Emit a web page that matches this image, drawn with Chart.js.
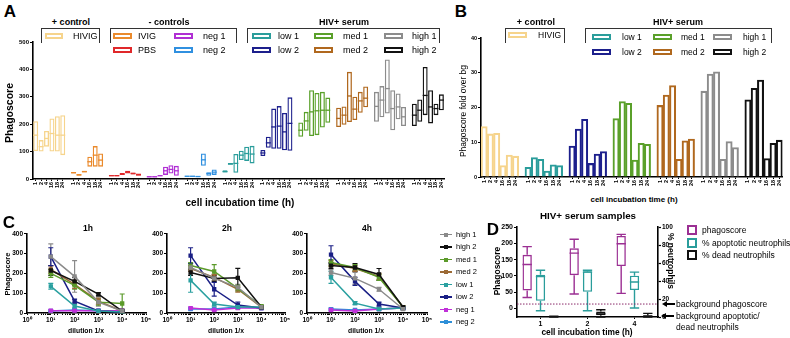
<!DOCTYPE html>
<html>
<head>
<meta charset="utf-8">
<script src="https://cdn.jsdelivr.net/npm/chart.js@4.4.1/dist/chart.umd.min.js"></script>
<style>
body { margin:0; background:#fff; }
#fig { position:relative; width:790px; height:338px; overflow:hidden; font-family:'Liberation Sans', Arial, sans-serif; color:#000; }
#fig canvas { position:absolute; }
.t { position:absolute; white-space:nowrap; line-height:1; }
.sw { position:absolute; box-sizing:border-box; border:2px solid; background:#fff; }
.br { position:absolute; box-sizing:border-box; border:1px solid #333; border-bottom:none; }
</style>
</head>
<body>
<div id="fig">
  <canvas id="chartA" width="449" height="156" style="left:0;top:37px"></canvas>
  <canvas id="chartB" width="326" height="158" style="left:461px;top:33px"></canvas>
  <canvas id="chartC1" width="146" height="96" style="left:7px;top:229px"></canvas>
  <canvas id="chartC2" width="145" height="96" style="left:147px;top:229px"></canvas>
  <canvas id="chartC3" width="147" height="96" style="left:287px;top:229px"></canvas>
  <canvas id="chartD" width="175" height="107" style="left:499px;top:222px"></canvas>
</div>
<script>
// ---- panel A: min / max / mean per group and time point
const groupsA = ['HIVIG', 'IVIG', 'PBS', 'neg 1', 'neg 2', 'low 1', 'low 2', 'med 1', 'med 2', 'high 1', 'high 2'];
const colorsA = ['#f6d48c', '#ea8a2c', '#e0282a', '#b02fd4', '#3090e0', '#2a9d9b', '#1c1f8c', '#5aa02a', '#b0681e', '#8c8c8c', '#111111'];
const times = ['1', '2', '4', '16', '18', '24'];
const minA = [
  [102, 100, 118, 100, 100, 87],
  [20, 12, 24, 45, 45, 45],
  [10, 10, 15, 20, 16, 12],
  [6, 6, 10, 15, 20, 12],
  [8, 8, 7, 48, 12, 15],
  [24, 52, 23, 69, 66, 57],
  [84, 114, 110, 110, 105, 103],
  [154, 176, 157, 160, 188, 205],
  [190, 198, 208, 215, 242, 262],
  [209, 225, 239, 178, 218, 193],
  [193, 209, 233, 203, 233, 251]
];
const maxA = [
  [211, 142, 175, 221, 229, 233],
  [26, 18, 30, 81, 120, 93],
  [14, 15, 22, 30, 24, 20],
  [10, 10, 14, 45, 50, 48],
  [12, 12, 11, 93, 25, 35],
  [32, 58, 91, 103, 118, 121],
  [106, 154, 257, 266, 241, 298],
  [206, 245, 324, 314, 318, 297],
  [260, 265, 391, 300, 318, 338],
  [318, 339, 436, 324, 312, 263],
  [275, 290, 409, 324, 275, 309]
];
const meanA = [
  [160, 118, 148, 166, 160, 160],
  [23, 15, 27, 63, 87, 69],
  [12, 12, 18, 25, 20, 16],
  [8, 8, 12, 30, 35, 30],
  [10, 10, 9, 70, 20, 25],
  [27, 55, 57, 87, 93, 91],
  [95, 132, 190, 193, 172, 203],
  [178, 212, 245, 249, 251, 251],
  [221, 233, 303, 255, 285, 295],
  [265, 288, 330, 257, 263, 227],
  [233, 251, 305, 263, 257, 288]
];

// ---- panel B: fold over background
const groupsB = ['HIVIG', 'low 1', 'low 2', 'med 1', 'med 2', 'high 1', 'high 2'];
const colorsB = ['#f6d48c', '#2a9d9b', '#1c1f8c', '#5aa02a', '#b0681e', '#8c8c8c', '#111111'];
const foldB = [
  [14.5, 12.4, 12.6, 3.3, 6.3, 6.0],
  [2.8, 5.6, 5.1, 1.7, 3.5, 3.3],
  [8.9, 13.8, 16.6, 3.9, 6.6, 7.3],
  [16.8, 21.7, 21.2, 4.9, 9.7, 9.4],
  [20.6, 23.6, 26.3, 5.1, 10.4, 10.9],
  [24.7, 29.6, 30.3, 5.1, 10.2, 8.5],
  [22.2, 25.5, 27.9, 5.3, 9.7, 10.6]
];

// ---- panel C: dilution series, mean and error per serum
const seriesC = ['high 1', 'high 2', 'med 1', 'med 2', 'low 1', 'low 2', 'neg 1', 'neg 2'];
const colorsC = ['#8a8a8a', '#111111', '#5b9a2a', '#9c6a35', '#2aa0a0', '#1a1f85', '#c030d8', '#2e8fd8'];
const dilutions = [10, 100, 1000, 10000];
const c1hVal = [[285, 185, 55, 10], [215, 160, 95, 10], [200, 140, 55, 48], [220, 145, 60, 10], [135, 35, 10, 5], [285, 60, 10, 5], [12, 12, 12, 12], [10, 15, 12, 12]];
const c1hErr = [[65, 80, 20, 5], [25, 20, 8, 5], [20, 20, 15, 48], [20, 20, 15, 5], [15, 10, 5, 3], [45, 10, 5, 3], [5, 3, 3, 3], [3, 3, 3, 3]];
const c2hVal = [[230, 175, 130, 30], [205, 175, 178, 30], [240, 210, 125, 35], [225, 180, 120, 30], [165, 45, 30, 30], [290, 120, 40, 25], [25, 15, 25, 25], [20, 20, 30, 25]];
const c2hErr = [[20, 20, 15, 5], [15, 15, 48, 5], [15, 35, 15, 5], [15, 15, 15, 5], [60, 10, 5, 5], [40, 35, 15, 5], [5, 5, 5, 5], [5, 5, 5, 5]];
const c4hVal = [[205, 175, 120, 20], [240, 230, 195, 30], [255, 230, 180, 30], [250, 225, 185, 30], [180, 50, 20, 25], [295, 160, 45, 25], [15, 10, 20, 25], [20, 15, 20, 25]];
const c4hErr = [[15, 30, 10, 5], [15, 20, 30, 5], [15, 15, 15, 5], [15, 15, 15, 5], [30, 8, 5, 5], [45, 20, 10, 5], [5, 3, 3, 3], [5, 3, 3, 3]];

// ---- panel D: box plots [min, q1, median, q3, max]
const timesD = ['1', '2', '4'];
const phagoD = [[33, 55, 135, 165, 190], [44, 102, 170, 185, 213], [46, 130, 199, 223, 228]];
const apopD = [[7, 18, 45, 47, 52], [7, 28, 50, 51, 52], [10, 30, 39, 46, 50]];
const deadD = [[0, 0, 0.4, 0.8, 1], [0, 2, 3.5, 6, 8], [0, 0, 1, 2, 4]];
const bgPhagoscore = 13;

Chart.defaults.font.family = "'Liberation Sans', Arial, sans-serif";
Chart.defaults.color = '#000';

// medians and whiskers on top of floating bars
const boxExtras = {
  id: 'boxExtras',
  afterDatasetsDraw(chart) {
    const ctx = chart.ctx;
    chart.data.datasets.forEach((ds, di) => {
      const meta = chart.getDatasetMeta(di);
      if (!ds.medians) return;
      const ys = chart.scales[meta.yAxisID];
      meta.data.forEach((bar, i) => {
        if (ds.data[i] == null) return;
        const half = bar.width / 2;
        ctx.save();
        ctx.strokeStyle = ds.borderColor;
        ctx.lineWidth = ds.borderWidth;
        ctx.beginPath();
        const ym = ys.getPixelForValue(ds.medians[i]);
        ctx.moveTo(bar.x - half, ym); ctx.lineTo(bar.x + half, ym);
        if (ds.whiskers) {
          const [lo, hi] = ds.whiskers[i];
          const [q1, q3] = ds.data[i];
          const yl = ys.getPixelForValue(lo), yh = ys.getPixelForValue(hi);
          ctx.moveTo(bar.x, ys.getPixelForValue(q1)); ctx.lineTo(bar.x, yl);
          ctx.moveTo(bar.x, ys.getPixelForValue(q3)); ctx.lineTo(bar.x, yh);
          ctx.moveTo(bar.x - half, yl); ctx.lineTo(bar.x + half, yl);
          ctx.moveTo(bar.x - half, yh); ctx.lineTo(bar.x + half, yh);
        }
        ctx.stroke();
        ctx.restore();
      });
    });
    const bg = chart.options.plugins.bgLine;
    if (bg && bg.value != null) {
      const y = chart.scales.y.getPixelForValue(bg.value);
      const a = chart.chartArea;
      ctx.save();
      ctx.strokeStyle = bg.color; ctx.lineWidth = 1; ctx.setLineDash([1.5, 1.5]);
      ctx.beginPath(); ctx.moveTo(a.left, y); ctx.lineTo(a.right, y); ctx.stroke();
      ctx.restore();
    }
  }
};

// vertical error bars for the dilution lines
const errorBars = {
  id: 'errorBars',
  beforeDatasetsDraw(chart) {
    const ctx = chart.ctx;
    const ys = chart.scales.y;
    chart.data.datasets.forEach((ds, di) => {
      const meta = chart.getDatasetMeta(di);
      meta.data.forEach((pt, i) => {
        const v = ds.data[i].y, e = ds.errors[i];
        const yt = ys.getPixelForValue(v + e), yb = ys.getPixelForValue(Math.max(0, v - e));
        ctx.save();
        ctx.strokeStyle = ds.borderColor; ctx.lineWidth = 1.2;
        ctx.beginPath();
        ctx.moveTo(pt.x, yt); ctx.lineTo(pt.x, yb);
        ctx.moveTo(pt.x - 2.5, yt); ctx.lineTo(pt.x + 2.5, yt);
        ctx.moveTo(pt.x - 2.5, yb); ctx.lineTo(pt.x + 2.5, yb);
        ctx.stroke();
        ctx.restore();
      });
    });
  }
};

function yAxis(min, max, step, width, size) {
  return {
    min: min, max: max,
    ticks: { stepSize: step, font: { size: size, weight: 'bold' }, color: '#000', padding: 1 },
    grid: { drawOnChartArea: false, tickLength: 3, tickColor: '#000', tickWidth: 1.2 },
    border: { color: '#000', width: 1.6 },
    afterFit: s => { s.width = width; }
  };
}

function baseOptions(padTop, padRight) {
  return {
    responsive: false, animation: false,
    layout: { autoPadding: false, padding: { top: padTop, right: padRight, left: 0, bottom: 0 } },
    plugins: { legend: { display: false }, tooltip: { enabled: false } }
  };
}

// category labels with an empty slot between groups
function groupedLabels(n) {
  const out = [];
  for (let g = 0; g < n; g++) {
    times.forEach(t => out.push(t));
    if (g < n - 1) out.push('');
  }
  return out;
}

function categoryX(labels, height) {
  return {
    ticks: { autoSkip: false, minRotation: 90, maxRotation: 90, font: { size: 5.5, weight: 'bold' }, color: '#000', padding: 1 },
    grid: { offset: false, drawOnChartArea: false, tickLength: 2, tickWidth: 1,
      tickColor: c => labels[c.index] ? '#000' : 'rgba(0,0,0,0)' },
    border: { color: '#000', width: 1.6 },
    afterFit: s => { s.height = height; }
  };
}

// ---- A
const labelsA = groupedLabels(groupsA.length);
const datasetsA = groupsA.map((name, g) => {
  const data = labelsA.map(() => null);
  const medians = labelsA.map(() => null);
  times.forEach((t, k) => {
    data[g * 7 + k] = [minA[g][k], maxA[g][k]];
    medians[g * 7 + k] = meanA[g][k];
  });
  return {
    label: name, data: data, medians: medians,
    borderColor: colorsA[g], backgroundColor: 'rgba(255,255,255,0)',
    borderWidth: 1.3, borderSkipped: false, grouped: false,
    barPercentage: 0.92, categoryPercentage: 1
  };
});
const optA = baseOptions(5, 2);
optA.scales = { x: categoryX(labelsA, 14), y: yAxis(0, 500, 100, 33, 6) };
new Chart(document.getElementById('chartA'), {
  type: 'bar', data: { labels: labelsA, datasets: datasetsA }, options: optA, plugins: [boxExtras]
});

// ---- B
const labelsB = groupedLabels(groupsB.length);
const datasetsB = groupsB.map((name, g) => {
  const data = labelsB.map(() => null);
  times.forEach((t, k) => { data[g * 7 + k] = foldB[g][k]; });
  return {
    label: name, data: data,
    borderColor: colorsB[g], backgroundColor: 'rgba(255,255,255,0)',
    borderWidth: 1.4, borderSkipped: 'start', grouped: false,
    barPercentage: 1, categoryPercentage: 1
  };
});
const optB = baseOptions(5, 4);
optB.scales = { x: categoryX(labelsB, 14), y: yAxis(0, 40, 10, 20, 5.5) };
new Chart(document.getElementById('chartB'), {
  type: 'bar', data: { labels: labelsB, datasets: datasetsB }, options: optB
});

// ---- C
const sup = ['⁰', '¹', '²', '³', '⁴', '⁵'];
function makeC(id, vals, errs) {
  const datasets = seriesC.map((name, s) => ({
    label: name,
    data: dilutions.map((d, i) => ({ x: d, y: vals[s][i] })),
    errors: errs[s],
    borderColor: colorsC[s], backgroundColor: colorsC[s],
    borderWidth: 1.5, pointStyle: 'rect', pointRadius: 2, tension: 0
  }));
  const opt = baseOptions(4, 7);
  opt.scales = {
    x: {
      type: 'logarithmic', min: 1, max: 100000,
      ticks: {
        autoSkip: false, maxRotation: 0, font: { size: 6.5, weight: 'bold' }, color: '#000', padding: 1,
        callback: v => {
          const e = Math.round(Math.log10(v));
          return Math.abs(Math.pow(10, e) - v) < 1e-6 * v ? '10' + sup[e] : '';
        }
      },
      grid: { drawOnChartArea: false, tickLength: 2, tickColor: '#000', tickWidth: 1 },
      border: { color: '#000', width: 1.6 },
      afterFit: s => { s.height = 12; }
    },
    y: yAxis(0, 400, 100, 20, 6.5)
  };
  new Chart(document.getElementById(id), {
    type: 'line', data: { datasets: datasets }, options: opt, plugins: [errorBars]
  });
}
makeC('chartC1', c1hVal, c1hErr);
makeC('chartC2', c2hVal, c2hErr);
makeC('chartC3', c4hVal, c4hErr);

// ---- D
function boxSet(label, rows, color, axis) {
  return {
    label: label, yAxisID: axis,
    data: rows.map(r => [r[1], r[3]]),
    medians: rows.map(r => r[2]),
    whiskers: rows.map(r => [r[0], r[4]]),
    borderColor: color, backgroundColor: 'rgba(255,255,255,0)',
    borderWidth: 1.4, borderSkipped: false,
    barPercentage: 0.7, categoryPercentage: 0.85
  };
}
const optD = baseOptions(4, 0);
optD.plugins.bgLine = { value: bgPhagoscore, color: '#8a2a6a' };
const yLeftD = yAxis(-27, 250, 50, 18, 7);
yLeftD.ticks.callback = v => (v % 50 === 0 ? v : null);
const yRightD = yAxis(0, 100, 20, 16, 6.5);
yRightD.position = 'right';
optD.scales = {
  x: {
    ticks: { font: { size: 7, weight: 'bold' }, color: '#000', padding: 1 },
    grid: { offset: false, drawOnChartArea: false, tickLength: 2, tickColor: '#000' },
    border: { color: '#000', width: 1.6 },
    afterFit: s => { s.height = 12; }
  },
  y: yLeftD,
  y2: yRightD
};
new Chart(document.getElementById('chartD'), {
  type: 'bar',
  data: {
    labels: timesD,
    datasets: [
      boxSet('phagoscore', phagoD, '#9b2f93', 'y'),
      boxSet('% apoptotic neutrophils', apopD, '#2a9d9b', 'y2'),
      boxSet('% dead neutrophils', deadD, '#111111', 'y2')
    ]
  },
  options: optD, plugins: [boxExtras]
});

// ---- text, legends and brackets
const fig = document.getElementById('fig');
function text(s, x, y, size, o = {}) {
  const d = document.createElement('div');
  d.className = 't';
  d.textContent = s;
  d.style.left = x + 'px';
  d.style.top = y + 'px';
  d.style.fontSize = size + 'px';
  d.style.fontWeight = o.bold ? 'bold' : 'normal';
  const ax = o.left ? '0' : '-50%';
  d.style.transform = 'translate(' + ax + ',-50%)' + (o.rot ? ' rotate(' + o.rot + 'deg)' : '');
  fig.appendChild(d);
}
function swatch(x1, x2, y, color, h = 6) {
  const d = document.createElement('div');
  d.className = 'sw';
  Object.assign(d.style, { left: x1 + 'px', top: (y - h / 2) + 'px', width: (x2 - x1) + 'px', height: h + 'px', borderColor: color });
  fig.appendChild(d);
}
function bracket(x1, x2, y1, y2) {
  const d = document.createElement('div');
  d.className = 'br';
  Object.assign(d.style, { left: x1 + 'px', top: y1 + 'px', width: (x2 - x1) + 'px', height: (y2 - y1) + 'px' });
  fig.appendChild(d);
}
function lineSwatch(x, y, color) {
  const l = document.createElement('div');
  Object.assign(l.style, { position: 'absolute', left: x + 'px', top: (y - 0.75) + 'px', width: '12px', height: '1.5px', background: color });
  fig.appendChild(l);
  const p = document.createElement('div');
  Object.assign(p.style, { position: 'absolute', left: (x + 4) + 'px', top: (y - 2) + 'px', width: '4px', height: '4px', background: color });
  fig.appendChild(p);
}
function arrow(x1, x2, y) {
  const l = document.createElement('div');
  Object.assign(l.style, { position: 'absolute', left: (x1 + 4) + 'px', top: (y - 0.75) + 'px', width: (x2 - x1 - 4) + 'px', height: '1.5px', background: '#000' });
  fig.appendChild(l);
  const h = document.createElement('div');
  Object.assign(h.style, { position: 'absolute', left: x1 + 'px', top: (y - 3) + 'px', width: 0, height: 0,
    borderTop: '3px solid transparent', borderBottom: '3px solid transparent', borderRight: '5px solid #000' });
  fig.appendChild(h);
}

// panel letters
text('A', 10, 11, 17, { bold: true });
text('B', 461, 11, 17, { bold: true });
text('C', 9, 222, 17, { bold: true });
text('D', 493, 229, 17, { bold: true });

// A legend
text('+ control', 71, 22, 9, { bold: true });
bracket(41, 100, 28, 43);
swatch(45, 63, 36, colorsA[0]); text('HIVIG', 73, 36, 9, { left: true });
text('- controls', 169, 22, 9, { bold: true });
bracket(110, 237, 28, 43);
text('HIV+ serum', 344, 22, 9, { bold: true });
bracket(247, 440, 28, 43);
const legA = [[1, 113, 138, 36], [2, 113, 138, 50], [3, 174, 203, 36], [4, 174, 203, 50],
  [5, 252, 278, 36], [6, 252, 278, 50], [7, 314, 343, 36], [8, 314, 343, 50], [9, 384, 412, 36], [10, 384, 412, 50]];
legA.forEach(([g, sx, tx, y]) => { swatch(sx, sx + 19, y, colorsA[g]); text(groupsA[g], tx, y, 9, { left: true }); });
text('Phagoscore', 9, 113, 10.5, { bold: true, rot: -90 });
text('cell incubation time (h)', 240, 203, 10, { bold: true });

// B legend
text('+ control', 536, 22, 9, { bold: true });
bracket(505, 565, 28, 43);
swatch(508, 527, 35, colorsB[0]); text('HIVIG', 538, 35, 8.5, { left: true });
text('HIV+ serum', 678, 22, 9, { bold: true });
bracket(585, 772, 28, 43);
const legB = [[1, 592, 622, 37], [2, 592, 622, 52], [3, 653, 681, 37], [4, 653, 681, 52], [5, 713, 743, 37], [6, 713, 743, 52]];
legB.forEach(([g, sx, tx, y]) => { swatch(sx, sx + 19, y, colorsB[g]); text(groupsB[g], tx, y, 8.5, { left: true }); });
text('Phagoscore fold over bg', 463, 111, 8.5, { rot: -90 });
text('cell incubation time (h)', 634, 200, 8, { bold: true });

// C titles and legend
text('1h', 88, 228, 8.5, { bold: true });
text('2h', 227, 228, 8.5, { bold: true });
text('4h', 367, 228, 8.5, { bold: true });
text('dilution 1/x', 86, 331, 6.8, { bold: true });
text('dilution 1/x', 226, 331, 6.8, { bold: true });
text('dilution 1/x', 366, 331, 6.8, { bold: true });
text('Phagoscore', 8, 274, 7.5, { bold: true, rot: -90 });
seriesC.forEach((name, s) => {
  const y = 234.5 + s * 12.5;
  lineSwatch(440, y, colorsC[s]);
  text(name, 456, y, 7.5, { left: true });
});

// D titles, legend and notes
text('HIV+ serum samples', 588, 216, 9.8, { bold: true });
text('Phagoscore', 497, 271, 8.5, { bold: true, rot: -90 });
text('% neutrophils', 671, 261, 8.5, { bold: true, rot: 90 });
text('cell incubation time (h)', 587, 332, 8.4, { bold: true });
[['phagoscore', '#9b2f93', 230], ['% apoptotic neutrophils', '#2a9d9b', 243], ['% dead neutrophils', '#111111', 255]]
  .forEach(([name, c, y]) => { swatch(687, 697, y, c, 10); text(name, 702, y, 8.5, { left: true }); });
arrow(662, 675, 304); text('background phagoscore', 676, 304, 8.5, { left: true });
arrow(661, 674, 316); text('background apoptotic/', 676, 316, 8.5, { left: true });
text('dead neutrophils', 676, 327, 8.5, { left: true });
</script>
</body>
</html>
